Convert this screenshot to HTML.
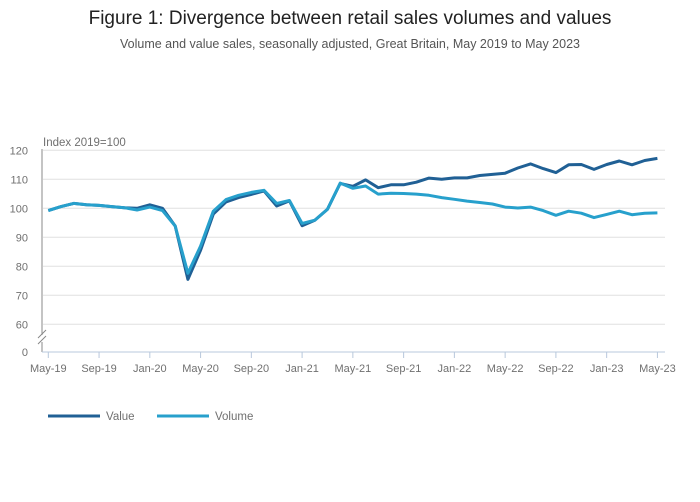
<!DOCTYPE html>
<html><head><meta charset="utf-8"><style>
body{margin:0;background:#fff;font-family:"Liberation Sans",sans-serif;}
#wrap{position:relative;width:700px;height:502px;overflow:hidden;}
</style></head><body>
<div id="wrap">
<svg id="chart" width="700" height="502"></svg>
</div>
<script>
const months=["May-19","Jun-19","Jul-19","Aug-19","Sep-19","Oct-19","Nov-19","Dec-19","Jan-20","Feb-20","Mar-20","Apr-20","May-20","Jun-20","Jul-20","Aug-20","Sep-20","Oct-20","Nov-20","Dec-20","Jan-21","Feb-21","Mar-21","Apr-21","May-21","Jun-21","Jul-21","Aug-21","Sep-21","Oct-21","Nov-21","Dec-21","Jan-22","Feb-22","Mar-22","Apr-22","May-22","Jun-22","Jul-22","Aug-22","Sep-22","Oct-22","Nov-22","Dec-22","Jan-23","Feb-23","Mar-23","Apr-23","May-23"];
const valueSeries=[99.2,100.6,101.7,101.2,101,100.6,100.2,100,101.2,100,93.9,75.5,85.6,98,102.2,103.7,104.8,106,100.8,102.6,94,95.9,99.7,108.6,107.6,109.8,107.1,108.1,108.1,109,110.4,110,110.5,110.5,111.3,111.7,112.1,113.9,115.3,113.7,112.3,115,115.1,113.4,115.1,116.3,115,116.5,117.2];
const volumeSeries=[99.2,100.6,101.7,101.2,101,100.6,100.2,99.4,100.4,99.2,93.9,77.6,87,99,103,104.5,105.5,106.2,101.7,102.7,94.8,95.9,99.7,108.7,106.9,107.7,104.9,105.2,105.1,104.9,104.5,103.7,103.1,102.5,102,101.5,100.4,100.1,100.4,99.2,97.6,99,98.3,96.8,97.9,99,97.8,98.3,98.4];
const yTicks=[60,70,80,90,100,110,120];
const xTickLabels=["May-19","Sep-19","Jan-20","May-20","Sep-20","Jan-21","May-21","Sep-21","Jan-22","May-22","Sep-22","Jan-23","May-23"];

const NS="http://www.w3.org/2000/svg";
const svg=document.getElementById('chart');
function el(tag,attrs,txt){const e=document.createElementNS(NS,tag);for(const k in attrs)e.setAttribute(k,attrs[k]);if(txt!==undefined)e.textContent=txt;svg.appendChild(e);return e;}
const x0=48.3,dx=12.69;
function xs(i){return x0+i*dx;}
function ys(v){return 208.3-(v-100)*2.9;}

let t=el('text',{x:350,y:24,'text-anchor':'middle','font-size':19,fill:'#222'},'Figure 1: Divergence between retail sales volumes and values');


t=el('text',{x:350,y:48,'text-anchor':'middle','font-size':12.5,fill:'#555'},'Volume and value sales, seasonally adjusted, Great Britain, May 2019 to May 2023');



yTicks.forEach(v=>{
 const g=el('line',{x1:43,x2:665,y1:ys(v),y2:ys(v),stroke:'#e0e0e0','stroke-width':1});
 
 
 const l=el('text',{x:28,y:ys(v)+4,'text-anchor':'end','font-size':11,fill:'#707070'},v);
 
 
});
let z=el('text',{x:28,y:356,'text-anchor':'end','font-size':11,fill:'#707070'},'0');


let ya=el('line',{x1:42,x2:42,y1:149,y2:335,stroke:'#888','stroke-width':1});


let ya2=el('line',{x1:42,x2:42,y1:342,y2:352,stroke:'#888','stroke-width':1});


let br=el('path',{d:'M38,338 L46,330 M38,344 L46,336',stroke:'#888','stroke-width':1,fill:'none'});


let xa=el('line',{x1:42,x2:665,y1:352,y2:352,stroke:'#b8c8dc','stroke-width':1});


let yt=el('text',{x:43,y:146,'font-size':11.5,fill:'#707070'},'Index 2019=100');



xTickLabels.forEach(lab=>{
 const i=months.indexOf(lab);
 const tk=el('line',{x1:xs(i),x2:xs(i),y1:352,y2:358,stroke:'#b8c8dc'});
 
 
 const l=el('text',{x:xs(i),y:372,'text-anchor':'middle','font-size':11,fill:'#707070'},lab);
 
 
});

function pts(arr){return arr.map((v,i)=>xs(i).toFixed(1)+','+ys(v).toFixed(1)).join(' ');}
let lv=el('polyline',{points:pts(valueSeries),fill:'none',stroke:'#206095','stroke-width':3,'stroke-linejoin':'round'});


let lo=el('polyline',{points:pts(volumeSeries),fill:'none',stroke:'#27a0cc','stroke-width':3,'stroke-linejoin':'round'});



let k1=el('line',{x1:48,x2:100,y1:416,y2:416,stroke:'#206095','stroke-width':3});


let t1=el('text',{x:106,y:420,'font-size':11.5,fill:'#707070'},'Value');


let k2=el('line',{x1:157,x2:209,y1:416,y2:416,stroke:'#27a0cc','stroke-width':3});


let t2=el('text',{x:215,y:420,'font-size':11.5,fill:'#707070'},'Volume');


</script>
</body></html>
